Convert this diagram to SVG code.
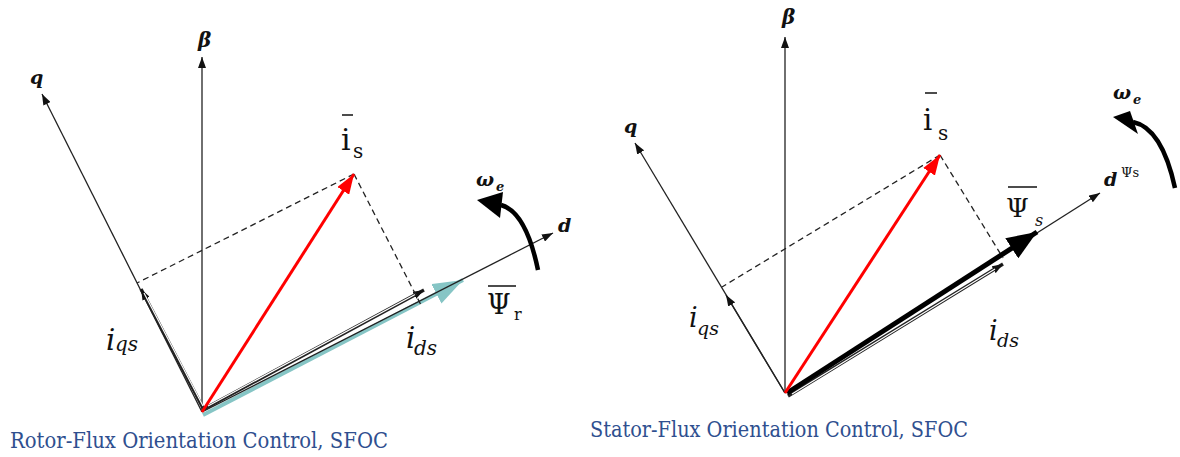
<svg xmlns="http://www.w3.org/2000/svg" width="1180" height="457" viewBox="0 0 1180 457">
<style>
.ax{stroke:#222;stroke-width:1.3;fill:none}
.dash{stroke:#222;stroke-width:1.3;stroke-dasharray:6 4;fill:none}
.red{stroke:#ff0000;stroke-width:3;fill:none}
.dbl{stroke:#222;stroke-width:3.4;fill:none}
.gap{stroke:#fff;stroke-width:1.2;fill:none}
.lab{font-weight:bold;font-style:italic;fill:#111}
.up{fill:#111}
.it{font-style:italic;fill:#111}
.cap{fill:#2f4f8f;font-size:23px}
.ov{stroke:#111;stroke-width:1.5}
</style>
<defs>
<marker id="mAx" markerUnits="userSpaceOnUse" markerWidth="11" markerHeight="8" refX="11" refY="4" orient="auto"><path d="M0,0 L11,4 L0,8 z" fill="#111"/></marker>
<marker id="mRed" markerUnits="userSpaceOnUse" markerWidth="20" markerHeight="14" refX="20" refY="7" orient="auto"><path d="M0,0 L20,7 L0,14 z" fill="#ff0000"/></marker>
<marker id="mTeal" markerUnits="userSpaceOnUse" markerWidth="30" markerHeight="22" refX="30" refY="11" orient="auto"><path d="M0,0 L30,11 L0,22 z" fill="#86c5c5"/></marker>
<marker id="mBig" markerUnits="userSpaceOnUse" markerWidth="30" markerHeight="24" refX="30" refY="12" orient="auto"><path d="M0,0 L30,12 L0,24 z" fill="#000"/></marker>
</defs>

<g id="connectors">
  <!-- left diagram -->
  <line x1="203" y1="415" x2="463" y2="280" stroke="#86c5c5" stroke-width="4" marker-end="url(#mTeal)"/>
  <line class="ax" x1="202" y1="412" x2="202" y2="57" marker-end="url(#mAx)"/>
  <line class="ax" x1="202" y1="412" x2="42" y2="94" marker-end="url(#mAx)"/>
  <line class="ax" x1="202" y1="412" x2="553" y2="233" marker-end="url(#mAx)"/>
  <line class="dbl" x1="204" y1="410" x2="141" y2="289" marker-end="url(#mAx)"/>
  <line class="gap" x1="203" y1="406" x2="144" y2="293"/>
  <line class="dbl" x1="204" y1="409" x2="424" y2="290" marker-end="url(#mAx)"/>
  <line class="gap" x1="208" y1="406" x2="416" y2="294"/>
  <line class="dash" x1="354" y1="174" x2="137" y2="283"/>
  <line class="dash" x1="354" y1="174" x2="422" y2="307"/>
  <line class="red" x1="202" y1="412" x2="354" y2="174" marker-end="url(#mRed)"/>
  <path d="M538,270 Q526,212 501,205" stroke="#000" stroke-width="4.5" fill="none"/>
  <polygon points="477,200 503,192 500,218" fill="#000"/>
  <!-- right diagram -->
  <line class="ax" x1="785" y1="393" x2="785" y2="37" marker-end="url(#mAx)"/>
  <line class="ax" x1="785" y1="393" x2="635" y2="143" marker-end="url(#mAx)"/>
  <line class="ax" x1="785" y1="393" x2="726" y2="295" marker-end="url(#mAx)"/>
  <line class="ax" x1="785" y1="393" x2="1100" y2="193" marker-end="url(#mAx)"/>
  <line class="dash" x1="940" y1="155" x2="722" y2="287"/>
  <line class="dash" x1="940" y1="155" x2="1003" y2="258"/>
  <line class="dbl" x1="788" y1="396" x2="1003" y2="264" marker-end="url(#mAx)"/>
  <line class="gap" x1="792" y1="394" x2="995" y2="269"/>
  <line x1="787" y1="393" x2="1037" y2="232" stroke="#000" stroke-width="5" marker-end="url(#mBig)"/>
  <line class="red" x1="785" y1="393" x2="940" y2="155" marker-end="url(#mRed)"/>
  <path d="M1175,188 Q1162,128 1133,122" stroke="#000" stroke-width="4.5" fill="none"/>
  <polygon points="1113,117 1130,111 1138,134" fill="#000"/>
</g>

<g id="left-labels" font-family="DejaVu Serif, serif">
  <text class="lab" x="198" y="47" font-size="20">β</text>
  <text class="lab" x="30" y="84" font-size="19">q</text>
  <text class="lab" x="558" y="232" font-size="19">d</text>
  <g id="left-omega"><text class="lab" x="476" y="186" font-size="19">ω</text><text class="lab" x="496" y="191" font-size="13">e</text></g>
  <g id="left-is"><line class="ov" x1="342" y1="115" x2="353" y2="115"/><text class="up" x="341" y="150" font-size="30">i</text><text class="up" x="353" y="158" font-size="20">s</text></g>
  <g id="left-psi"><line class="ov" x1="488" y1="286" x2="516" y2="286"/><text class="up" x="487" y="314" font-size="27">Ψ</text><text class="up" x="514" y="320" font-size="16">r</text></g>
  <g id="left-iqs"><text class="it" x="106" y="350" font-size="29">i</text><text class="it" x="115" y="351" font-size="20">qs</text></g>
  <g id="left-ids"><text class="it" x="406" y="348" font-size="29">i</text><text class="it" x="414" y="355" font-size="20">ds</text></g>
  <text class="cap" x="10" y="448" textLength="378" lengthAdjust="spacingAndGlyphs">Rotor-Flux Orientation Control, SFOC</text>
</g>

<g id="right-labels" font-family="DejaVu Serif, serif">
  <text class="lab" x="782" y="24" font-size="20">β</text>
  <text class="lab" x="624" y="133" font-size="19">q</text>
  <g id="right-d"><text class="lab" x="1104" y="186" font-size="19">d</text><text class="up" x="1121" y="177" font-size="13">Ψs</text></g>
  <g id="right-omega"><text class="lab" x="1113" y="99" font-size="19">ω</text><text class="lab" x="1133" y="104" font-size="13">e</text></g>
  <g id="right-is"><line class="ov" x1="925" y1="93" x2="937" y2="93"/><text class="up" x="923" y="130" font-size="29">i</text><text class="up" x="938" y="140" font-size="20">s</text></g>
  <g id="right-psi"><line class="ov" x1="1008" y1="187" x2="1037" y2="187"/><text class="up" x="1006" y="217" font-size="26">Ψ</text><text class="it" x="1035" y="226" font-size="16">s</text></g>
  <g id="right-iqs"><text class="it" x="689" y="327" font-size="27">i</text><text class="it" x="697" y="335" font-size="19">qs</text></g>
  <g id="right-ids"><text class="it" x="989" y="340" font-size="27">i</text><text class="it" x="997" y="347" font-size="19">ds</text></g>
  <text class="cap" x="590" y="437" textLength="378" lengthAdjust="spacingAndGlyphs">Stator-Flux Orientation Control, SFOC</text>
</g>
</svg>
